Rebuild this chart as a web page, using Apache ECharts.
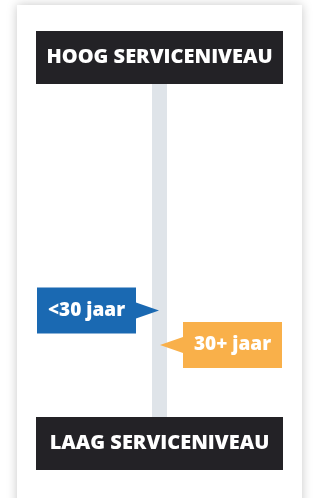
<!DOCTYPE html>
<html>
<head>
<meta charset="utf-8">
<script src="https://cdn.jsdelivr.net/npm/echarts@6/dist/echarts.min.js"></script>
<style>
  html, body { margin: 0; padding: 0; background: #fff; }
  #main { width: 313px; height: 498px; }
</style>
</head>
<body>
<div id="main"></div>
<script>
// scale labels, top and bottom
const scaleTop = "HOOG SERVICENIVEAU";
const scaleBottom = "LAAG SERVICENIVEAU";
// groups and their position on the scale (0 = laag, 100 = hoog)
const groups = ["<30 jaar", "30+ jaar"];
const levels = [32, 21.6];
const sides = ["left", "right"];

const colors = ["#1a69b2", "#f9b04a"];
const font = "'Open Sans', sans-serif";

let myChart = echarts.init(document.getElementById("main"));

let option = {
  backgroundColor: "#fff",
  animation: false,
  grid: {
    left: 36,
    right: 30,
    top: 84,
    bottom: 81,
  },
  xAxis: {
    type: "category",
    data: ["scale"],
    show: false,
  },
  yAxis: {
    type: "value",
    min: 0,
    max: 100,
    show: false,
  },
  graphic: [
    {
      // card
      type: "rect",
      z: -10,
      shape: { x: 17, y: 5, width: 285, height: 520 },
      style: {
        fill: "#fff",
        shadowBlur: 10,
        shadowColor: "rgba(0,0,0,0.22)",
      },
    },
    {
      type: "rect",
      shape: { x: 36, y: 31, width: 247, height: 53 },
      style: { fill: "#232226" },
      textContent: {
        style: {
          text: scaleTop,
          fill: "#fff",
          font: "800 20px " + font,
        },
      },
      textConfig: { position: "inside" },
    },
    {
      type: "rect",
      shape: { x: 36, y: 417, width: 247, height: 53 },
      style: { fill: "#232226" },
      textContent: {
        style: {
          text: scaleBottom,
          fill: "#fff",
          font: "800 20px " + font,
        },
      },
      textConfig: { position: "inside" },
    },
  ],
  series: [
    {
      // grey track
      type: "bar",
      barWidth: 15,
      data: [100],
      itemStyle: { color: "#dfe4e9" },
      silent: true,
    },
    {
      type: "custom",
      z: 5,
      data: groups.map((g, i) => [0, levels[i], i]),
      renderItem: function (params, api) {
        let i = api.value(2);
        let p = api.coord([0, api.value(1)]);
        let w = 99, h = 46, gap = 23, half = 8;
        let tipX, boxX;
        if (sides[i] === "left") {
          tipX = p[0] - 0.5;
          boxX = tipX - gap - w;
        } else {
          tipX = p[0] + 0.5;
          boxX = tipX + gap;
        }
        let baseX = sides[i] === "left" ? boxX + w : boxX;
        return {
          type: "group",
          children: [
            {
              type: "polygon",
              shape: {
                points: [
                  [baseX, p[1] - half],
                  [tipX, p[1]],
                  [baseX, p[1] + half],
                ],
              },
              style: { fill: colors[i] },
            },
            {
              type: "rect",
              shape: { x: boxX, y: p[1] - h / 2, width: w, height: h },
              style: { fill: colors[i] },
            },
            {
              type: "text",
              style: {
                x: boxX + w / 2,
                y: p[1],
                text: groups[i],
                fill: "#fff",
                font: "800 19px " + font,
                align: "center",
                verticalAlign: "middle",
              },
            },
          ],
        };
      },
    },
  ],
};
myChart.setOption(option);
</script>
</body>
</html>
